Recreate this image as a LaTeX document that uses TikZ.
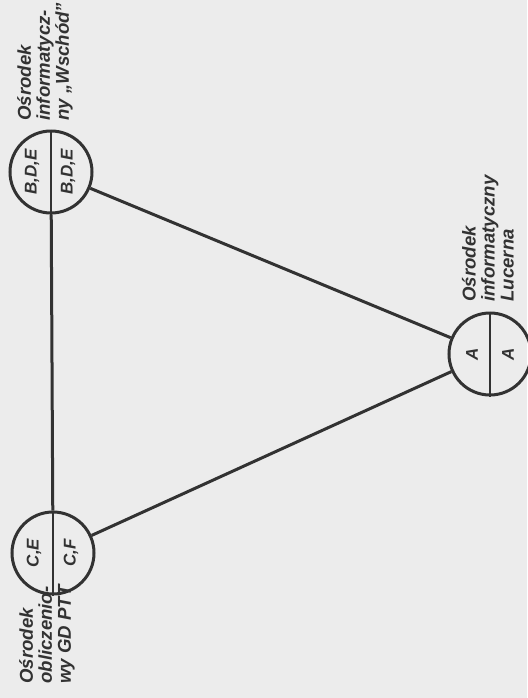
\documentclass[tikz,border=0pt]{standalone}
\usepackage{fontspec}
\setmainfont{Liberation Sans}
\usetikzlibrary{positioning}

\definecolor{paper}{RGB}{236,236,236}
\definecolor{ink}{RGB}{50,50,50}

\begin{document}
\begin{tikzpicture}[
  x=0.5pt, y=-0.5pt,
  centre/.style={circle, draw=ink, line width=1.5pt, minimum size=41pt, inner sep=0pt},
  half/.style={rotate=90, font=\fontsize{8.5}{8.5}\selectfont\bfseries\itshape, text=ink, inner sep=0pt},
  label/.style={rotate=90, anchor=west, align=left, inner sep=0pt,
                font=\fontsize{9.3}{9.5}\selectfont\bfseries\itshape, text=ink},
  link/.style={draw=ink, line width=1.5pt},
]

% paper
\fill[paper] (0,0) rectangle (527,698);
\useasboundingbox (0,0) rectangle (527,698);

% computing centres
\node[centre] (wschod) at (51,172) {};
\node[centre] (gdptt) at (53,553) {};
\node[centre] (lucerna) at (490,354) {};

% dividers
\draw[ink, line width=1pt] (wschod.north) -- (wschod.south);
\draw[ink, line width=1pt] (gdptt.north) -- (gdptt.south);
\draw[ink, line width=1pt] (lucerna.north) -- (lucerna.south);

% data sets in each half
\node[half] (wschodL) at (32,172) {B,D,E};
\node[half] (wschodR) at (68,172) {B,D,E};
\node[half] (gdpttL) at (34,553) {C,E};
\node[half] (gdpttR) at (71,553) {C,F};
\node[half] (lucernaL) at (472,354) {A};
\node[half] (lucernaR) at (508,354) {A};

% links
\draw[link] (wschod) -- (gdptt);
\draw[link] (wschod) -- (lucerna);
\draw[link] (gdptt) -- (lucerna);

% names
\node[label] (wschodT) at (45,121) {Ośrodek\\informatycz-\\ny „Wschód”};
\node[label] (gdpttT) at (47,684) {Ośrodek\\obliczenio-\\wy GD PTT};
\node[label] (lucernaT) at (488,302) {Ośrodek\\informatyczny\\Lucerna};

\end{tikzpicture}
\end{document}
